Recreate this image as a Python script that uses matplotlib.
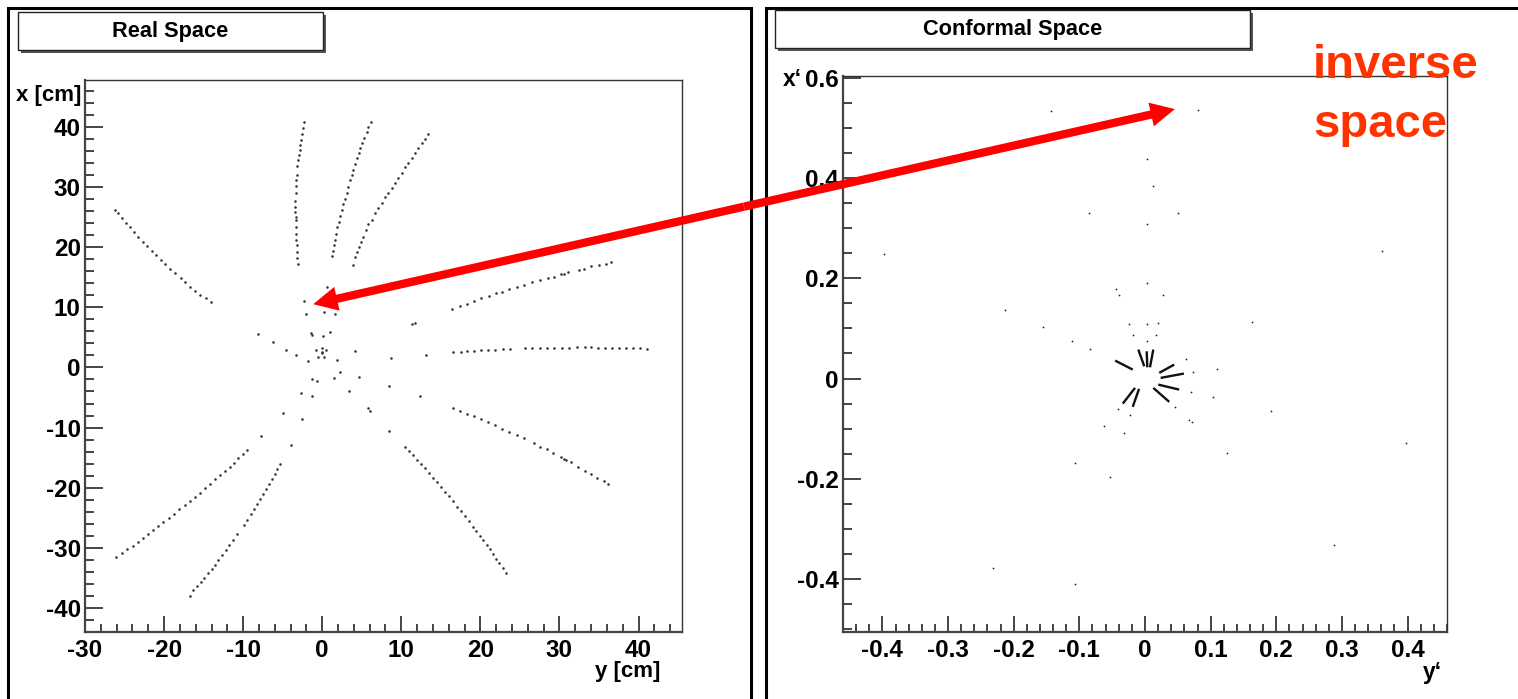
import matplotlib
matplotlib.use('Agg')
import matplotlib.pyplot as plt
from matplotlib.patches import Rectangle, ConnectionPatch
from matplotlib.ticker import MultipleLocator, FuncFormatter
import numpy as np

FONT = ['Liberation Sans', 'DejaVu Sans']
plt.rcParams['font.family'] = FONT
plt.rcParams['font.weight'] = 'bold'
plt.rcParams['axes.unicode_minus'] = False

# ---------------- data: real space (y [cm] horizontal, x [cm] vertical) ----------------
t1_y = [-26.21, -25.79, -25.33, -24.87, -24.32, -23.81, -23.26, -22.67, -22.21, -21.58, -21.03,
        -20.44, -19.85, -19.21, -18.62, -17.91, -17.32, -16.68, -16.05, -15.42, -14.75, -14.11]
t1_x = [26.24, 25.60, 24.88, 24.05, 23.38, 22.55, 21.72, 20.78, 20.17, 19.28, 18.62,
        17.79, 17.12, 16.40, 15.63, 14.85, 14.18, 13.35, 12.63, 12.08, 11.52, 10.91]
t2_y = [-2.27, -2.40, -2.52, -2.65, -2.78, -2.86, -2.99, -3.07, -3.16, -3.24, -3.28, -3.32, -3.37,
        -3.41, -3.41, -3.41, -3.37, -3.37, -3.37, -3.37, -3.32, -3.24, -3.24, -3.16, -3.11]
t2_x = [40.84, 39.90, 38.90, 37.90, 36.96, 36.13, 35.30, 34.47, 33.47, 32.08, 31.14, 30.15, 28.93,
        27.71, 26.60, 25.88, 25.05, 24.49, 23.38, 22.27, 21.27, 20.33, 19.22, 18.12, 17.17]
t3_y = [6.15, 5.82, 5.61, 5.23, 4.98, 4.77, 4.60, 4.34, 4.09, 3.92, 3.71, 3.50, 3.29, 3.08, 2.87,
        2.66, 2.45, 2.24, 2.07, 1.90, 1.73, 1.56, 1.44, 1.31, 1.27]
t3_x = [40.84, 40.01, 39.07, 38.18, 37.24, 36.41, 35.69, 34.75, 33.81, 32.91, 31.97, 31.14, 30.03,
        28.93, 28.04, 27.15, 26.16, 25.16, 24.21, 23.38, 22.27, 21.27, 20.33, 19.39, 18.56]
t4_y = [13.41, 12.98, 12.56, 12.14, 11.72, 11.30, 10.88, 10.45, 10.03, 9.61, 9.19, 8.77, 8.35,
        7.92, 7.50, 7.08, 6.66, 6.24, 5.82, 5.48, 5.19, 4.89, 4.64, 4.34, 4.09, 3.84]
t4_x = [38.90, 38.07, 37.24, 36.41, 35.58, 34.75, 34.02, 33.25, 32.35, 31.58, 30.75, 29.92, 29.09,
        28.26, 27.37, 26.54, 25.60, 24.60, 23.82, 22.83, 21.72, 20.89, 20.06, 19.22, 18.39, 17.01]
t5_y = [16.44, 17.41, 18.29, 19.22, 20.11, 21.03, 21.92, 22.76, 23.64, 24.61, 25.54, 26.59,
        27.52, 28.57, 29.25, 30.18, 30.60, 31.10, 32.45, 33.08, 34.05, 34.98, 35.91, 36.58]
t5_x = [9.75, 10.19, 10.63, 11.08, 11.47, 11.91, 12.30, 12.57, 13.02, 13.41, 13.79, 14.18,
        14.51, 14.90, 15.12, 15.46, 15.62, 15.79, 16.23, 16.45, 16.79, 17.06, 17.28, 17.51]
t6_y = [16.57, 17.49, 18.34, 19.22, 20.11, 20.99, 21.88, 22.80, 23.69, 25.59, 26.59, 27.48, 28.41,
        29.33, 30.35, 31.23, 32.28, 33.17, 34.05, 34.90, 35.78, 36.67, 37.55, 38.44, 39.32, 40.17, 41.05]
t6_x = [2.49, 2.60, 2.65, 2.77, 2.82, 2.88, 2.93, 3.04, 3.04, 3.15, 3.21, 3.21, 3.21,
        3.26, 3.26, 3.26, 3.32, 3.32, 3.32, 3.26, 3.26, 3.26, 3.21, 3.21, 3.21, 3.15, 3.10]
t7_y = [16.48, 17.41, 18.29, 19.18, 20.11, 20.99, 21.84, 22.76, 23.65, 24.61, 25.46, 26.76, 27.56,
        28.37, 29.21, 30.18, 30.60, 30.89, 31.40, 32.41, 33.21, 34.01, 34.81, 35.61, 36.12]
t7_x = [-6.71, -7.21, -7.71, -8.15, -8.65, -9.15, -9.65, -10.20, -10.70, -11.26, -11.81, -12.64, -13.19,
        -13.64, -14.25, -14.91, -15.24, -15.46, -15.80, -16.57, -17.18, -17.74, -18.35, -18.96, -19.40]
t8_y = [10.46, 10.92, 11.42, 11.93, 12.43, 12.98, 13.49, 13.99, 14.50, 15.01, 15.55, 16.06, 16.52, 17.03,
        17.53, 18.00, 18.50, 19.01, 19.47, 19.94, 20.36, 20.78, 21.20, 21.62, 22.04, 22.38, 22.80, 23.18]
t8_x = [-13.19, -13.92, -14.63, -15.41, -16.02, -16.80, -17.52, -18.35, -19.12, -19.90, -20.68, -21.45,
        -22.28, -23.17, -23.89, -24.72, -25.49, -26.49, -27.21, -27.99, -28.77, -29.54, -30.26, -31.04,
        -31.81, -32.59, -33.37, -34.14]
t9_y = [-9.52, -10.07, -10.62, -11.16, -11.71, -12.34, -12.98, -13.57, -14.20, -14.79, -15.46, -16.09,
        -16.77, -17.40, -18.07, -18.75, -19.38, -20.09, -20.77, -21.36, -21.99, -22.71, -23.34, -23.97,
        -24.65, -25.36, -26.08]
t9_x = [-13.80, -14.41, -15.13, -15.85, -16.52, -17.18, -17.90, -18.62, -19.35, -20.07, -20.84, -21.56,
        -22.23, -22.95, -23.62, -24.33, -25.00, -25.66, -26.33, -26.99, -27.71, -28.38, -29.04, -29.65,
        -30.26, -30.93, -31.59]
t10_y = [-5.35, -5.68, -6.02, -6.36, -6.74, -7.07, -7.45, -7.83, -8.21, -8.63, -9.01, -9.47, -9.90,
         -10.78, -11.25, -11.75, -12.22, -12.68, -13.14, -13.56, -13.99, -14.41, -14.91, -15.38,
         -15.84, -16.30, -16.77]
t10_x = [-16.13, -16.96, -17.79, -18.62, -19.46, -20.29, -21.12, -21.95, -22.78, -23.61, -24.44, -25.39,
         -26.22, -27.77, -28.71, -29.54, -30.37, -31.21, -32.04, -32.81, -33.53, -34.25, -34.98, -35.70,
         -36.36, -37.03, -37.96]

hits_y = [0.59, -2.36, -2.02, 0.26, 1.61, -8.12, -1.43, -1.34, 0.05, 0.97, -6.27, -4.55, -3.37, -0.80,
          0.00, 0.47, 0.00, -0.04, -0.50, 0.26, -1.85, 1.82, 2.24, 1.48, -1.26, -0.63, -2.73, -1.34,
          3.38, -4.93, -2.52, -7.70, 11.30, 11.68, 4.13, 8.68, 13.15, 4.64, 8.47, 12.35, 5.73, 6.02,
          8.47, -3.99]
hits_x = [13.41, 11.08, 8.86, 9.30, 8.86, 5.59, 5.70, 5.31, 5.20, 5.87, 4.15, 2.88, 2.10, 2.82,
          3.21, 2.93, 2.54, 2.32, 1.71, 1.77, 1.11, 1.27, -0.78, -1.72, -1.94, -2.33, -4.33, -4.82,
          -3.93, -7.54, -8.59, -11.42, 7.18, 7.35, 2.77, 1.49, 2.09, -1.61, -3.06, -4.77, -6.82, -7.26,
          -10.54, -12.86]

# ---------------- data: conformal space ----------------
conf_y = [-0.1426, 0.0807, 0.0023, 0.0123, -0.0859, 0.0508, 0.0029, -0.3974, 0.3607, 0.0029, -0.0439,
          -0.0403, 0.0275, -0.2133, -0.1555, 0.1637, -0.0243, 0.0030, 0.0192, -0.0187, 0.0162, 0.0030,
          -0.1113, -0.0835, 0.0622, 0.0733, 0.1097, 0.0703, 0.1037, 0.0460, -0.0410, -0.0228, -0.0617,
          -0.0319, 0.0673, 0.0713, 0.1912, 0.3976, 0.1250, -0.1064, -0.0531, 0.2882, -0.2320, -0.1064]
conf_x = [0.534, 0.536, 0.438, 0.384, 0.329, 0.329, 0.309, 0.249, 0.255, 0.191, 0.179,
          0.167, 0.166, 0.137, 0.102, 0.113, 0.109, 0.108, 0.110, 0.0876, 0.0876, 0.0750,
          0.0750, 0.0584, 0.0398, 0.0133, 0.0199, -0.0266, -0.0365, -0.0571, -0.0598, -0.0717, -0.0936,
          -0.1082, -0.0817, -0.0857, -0.0637, -0.128, -0.1474, -0.1687, -0.1952, -0.3320, -0.3771, -0.4090]
seg_y0 = [-0.0455, -0.0102, 0.0026, 0.0126, 0.0217, 0.0238, 0.0202, 0.0126, -0.0152, -0.0091]
seg_x0 = [0.0359, 0.0578, 0.0544, 0.0578, 0.0114, 0.0014, -0.0120, -0.0185, -0.0185, -0.0205]
seg_y1 = [-0.0187, -0.0011, 0.0035, 0.0076, 0.0445, 0.0592, 0.0520, 0.0369, -0.0338, -0.0187]
seg_x1 = [0.0179, 0.0245, 0.0225, 0.0225, 0.0279, 0.0100, -0.0219, -0.0464, -0.0498, -0.0564]

real_tracks = [(t1_y, t1_x), (t2_y, t2_x), (t3_y, t3_x), (t4_y, t4_x), (t5_y, t5_x),
               (t6_y, t6_x), (t7_y, t7_x), (t8_y, t8_x), (t9_y, t9_x), (t10_y, t10_x)]

# arrow end points (data coords of each panel)
arrow_real = (-1.14, 10.52)
arrow_conf = (0.0455, 0.537)

# ---------------- figure ----------------
W, H = 1518, 699
fig = plt.figure(figsize=(W / 100, H / 100), dpi=100)


def fx(px):
    return px / W


def fy(py):
    return 1 - py / H


# panel borders
fig.patches.append(Rectangle((fx(8), fy(760)), fx(751) - fx(8), fy(8) - fy(760), fill=False,
                             lw=2.2, ec='black', transform=fig.transFigure, zorder=0))
fig.patches.append(Rectangle((fx(766), fy(760)), fx(1600) - fx(766), fy(8) - fy(760), fill=False,
                             lw=2.2, ec='black', transform=fig.transFigure, zorder=0))


def title_box(x0, y0, x1, y1, text):
    fig.patches.append(Rectangle((fx(x0 + 3), fy(y1 + 3)), fx(x1) - fx(x0), fy(y0) - fy(y1),
                                 fc='#555555', ec='none', transform=fig.transFigure, zorder=1))
    fig.patches.append(Rectangle((fx(x0), fy(y1)), fx(x1) - fx(x0), fy(y0) - fy(y1),
                                 fc='white', ec='#222222', lw=1.0, transform=fig.transFigure, zorder=2))
    fig.text(fx((x0 + x1) / 2), fy((y0 + y1) / 2), text, ha='center', va='center',
             fontsize=15.7, fontweight='bold', zorder=3)


title_box(18, 12, 323, 50, 'Real Space')
title_box(775, 10, 1250, 48, 'Conformal Space')

ax1 = fig.add_axes([fx(85), fy(632), fx(682) - fx(85), fy(80) - fy(632)])
ax2 = fig.add_axes([fx(843), fy(632), fx(1447) - fx(843), fy(76) - fy(632)])

fmt = FuncFormatter(lambda v, p: '%g' % round(v, 6))

for ax in (ax1, ax2):
    for s in ('left', 'bottom'):
        ax.spines[s].set_linewidth(1.6)
        ax.spines[s].set_color('#444444')
    for s in ('top', 'right'):
        ax.spines[s].set_linewidth(1.0)
        ax.spines[s].set_color('#333333')
    ax.xaxis.set_major_formatter(fmt)
    ax.yaxis.set_major_formatter(fmt)
    ax.tick_params(which='both', direction='in', color='#444444', width=1.4,
                   top=False, right=False, labelsize=17.5)
    ax.tick_params(axis='x', which='major', length=11.5, pad=5.0)
    ax.tick_params(axis='x', which='minor', length=5.8)
    ax.tick_params(axis='y', which='major', length=13, pad=3.0)
    ax.tick_params(axis='y', which='minor', length=6.3)

# left panel
for ty, tx in real_tracks:
    ax1.scatter(ty, tx, s=3.4, c='#333333', linewidths=0, marker='o')
ax1.scatter(hits_y, hits_x, s=3.4, c='#333333', linewidths=0, marker='o')
ax1.set_xlim(-30, 45.5)
ax1.set_ylim(-44.0, 47.8)
ax1.xaxis.set_major_locator(MultipleLocator(10))
ax1.xaxis.set_minor_locator(MultipleLocator(2))
ax1.yaxis.set_major_locator(MultipleLocator(10))
ax1.yaxis.set_minor_locator(MultipleLocator(2))

# right panel
ax2.scatter(conf_y, conf_x, s=1.6, c='#222222', linewidths=0, marker='o')
for ya, xa, yb, xb in zip(seg_y0, seg_x0, seg_y1, seg_x1):
    ax2.plot([ya, yb], [xa, xb], color='#111111', lw=1.7, solid_capstyle='butt')
ax2.set_xlim(-0.46, 0.46)
ax2.set_ylim(-0.505, 0.603)
ax2.xaxis.set_major_locator(MultipleLocator(0.1))
ax2.xaxis.set_minor_locator(MultipleLocator(0.02))
ax2.yaxis.set_major_locator(MultipleLocator(0.2))
ax2.yaxis.set_minor_locator(MultipleLocator(0.05))

# axis titles
fig.text(fx(81), fy(95), 'x [cm]', ha='right', va='center', fontsize=16, fontweight='bold')
fig.text(fx(660), fy(671), 'y [cm]', ha='right', va='center', fontsize=16, fontweight='bold')
fig.text(fx(802), fy(80), 'x\u2018', ha='right', va='center', fontsize=16.5, fontweight='bold')
fig.text(fx(1442), fy(673), 'y\u2018', ha='right', va='center', fontsize=16.5, fontweight='bold')

# inverse space text
fig.text(fx(1313), fy(66), 'inverse', ha='left', va='center', fontsize=34, fontweight='bold',
         color='#ff3300')
fig.text(fx(1313), fy(125), 'space', ha='left', va='center', fontsize=34, fontweight='bold',
         color='#ff3300')

# double headed red arrow between panels
fig.canvas.draw()
p1 = ax1.transData.transform(arrow_real)
p2 = ax2.transData.transform(arrow_conf)
mid = (p1 + p2) / 2.0
style = 'simple,head_length=1.0,head_width=1.0,tail_width=0.34'
for tip, tr in ((arrow_real, ax1.transData), (arrow_conf, ax2.transData)):
    cp = ConnectionPatch(xyA=tuple(mid), coordsA='figure pixels', xyB=tip, coordsB=tr,
                         arrowstyle=style, mutation_scale=17.5, fc='#ff0000', ec='none', lw=0,
                         shrinkA=0, shrinkB=0, zorder=10)
    fig.add_artist(cp)

fig.savefig('out.png', dpi=100)
